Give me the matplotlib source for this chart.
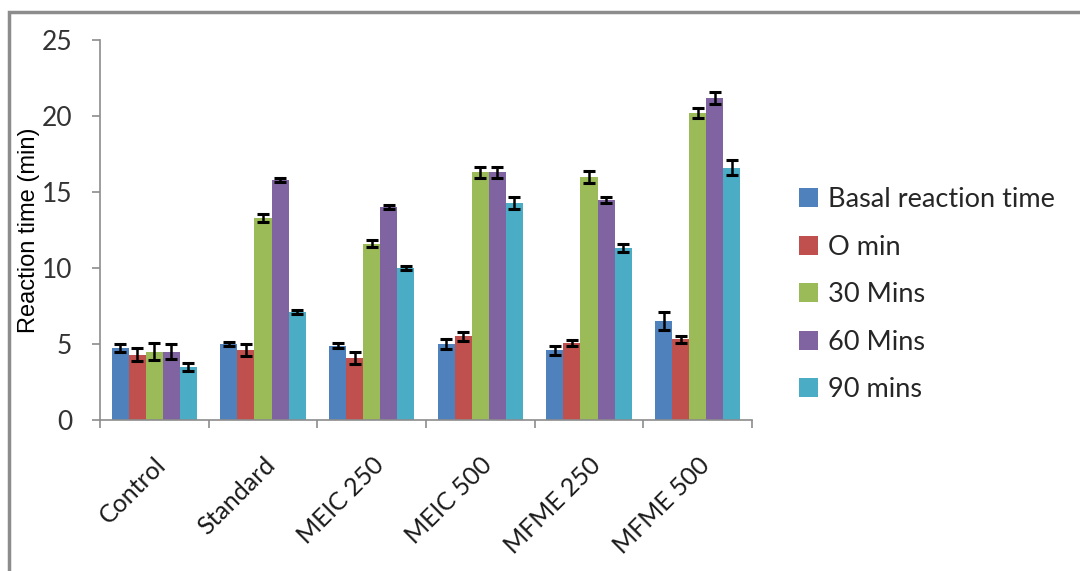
import numpy as np
import matplotlib.pyplot as plt
from matplotlib.patches import Rectangle

groups = ['Control', 'Standard', 'MEIC 250', 'MEIC 500', 'MFME 250', 'MFME 500']
series = ['Basal reaction time', 'O min', '30 Mins', '60 Mins', '90 mins']
colors = ['#4F81BD', '#C0504D', '#9BBB59', '#8064A2', '#4BACC6']

basal = [4.75, 5.0, 4.9, 5.0, 4.6, 6.5]
min0 = [4.3, 4.6, 4.1, 5.5, 5.05, 5.3]
min30 = [4.5, 13.3, 11.6, 16.3, 16.0, 20.2]
min60 = [4.5, 15.8, 14.0, 16.3, 14.5, 21.2]
min90 = [3.5, 7.1, 10.0, 14.25, 11.3, 16.6]

basal_err = [0.25, 0.15, 0.15, 0.35, 0.3, 0.6]
min0_err = [0.45, 0.4, 0.4, 0.3, 0.2, 0.25]
min30_err = [0.55, 0.25, 0.25, 0.35, 0.4, 0.3]
min60_err = [0.5, 0.15, 0.15, 0.35, 0.2, 0.4]
min90_err = [0.25, 0.15, 0.15, 0.4, 0.25, 0.5]

values = [basal, min0, min30, min60, min90]
errors = [basal_err, min0_err, min30_err, min60_err, min90_err]

plt.rcParams['font.family'] = ['Lato', 'DejaVu Sans']

fig = plt.figure(figsize=(10.8, 5.71), dpi=100)
ax = fig.add_axes([100 / 1080, 1 - 420 / 571, 652 / 1080, 380 / 571])

# outer chart border (only top/left visible in the source)
fig.patches.append(Rectangle((9 / 1080, -0.1), 1.2, 1.1 - 12 / 571,
                             transform=fig.transFigure, fill=False,
                             edgecolor='#8c8c8c', linewidth=2.5))

x = np.arange(len(groups))
w = 0.157
for i, (vals, errs) in enumerate(zip(values, errors)):
    ax.bar(x + (i - 2) * w, vals, w, color=colors[i], label=series[i],
           yerr=errs, error_kw=dict(ecolor='black', elinewidth=1.8,
                                    capsize=4.5, capthick=2.2))

ax.set_xlim(-0.5, len(groups) - 0.5)
ax.set_ylim(0, 25)
ax.set_yticks(range(0, 26, 5))
ax.set_xticks(np.arange(-0.5, len(groups), 1.0), minor=False)
ax.set_xticklabels([])
ax.set_xticks(x, minor=True)
ax.set_xticklabels(groups, minor=True, rotation=45, ha='right',
                   rotation_mode='anchor', fontsize=18, color='#1a1a1a')
ax.tick_params(axis='x', which='minor', length=0, pad=24)
ax.tick_params(axis='x', which='major', length=6, color='#8c8c8c', width=1.2)
ax.tick_params(axis='y', length=6, color='#8c8c8c', width=1.2,
               labelsize=19, labelcolor='#333333', pad=14)

for s in ['top', 'right']:
    ax.spines[s].set_visible(False)
for s in ['left', 'bottom']:
    ax.spines[s].set_color('#8c8c8c')
    ax.spines[s].set_linewidth(1.2)

ax.set_ylabel('Reaction time (min)', fontsize=17, family=['Liberation Sans'],
              va='center')
ax.yaxis.set_label_coords(-0.109, 0.5)

leg = ax.legend(loc='center left', bbox_to_anchor=(1.055, 0.33), frameon=False,
                fontsize=19.5, handlelength=0.7, handleheight=0.7,
                handletextpad=0.4, labelspacing=0.83, borderaxespad=0)
for t in leg.get_texts():
    t.set_color('#262626')

fig.savefig('out.png', dpi=100)
